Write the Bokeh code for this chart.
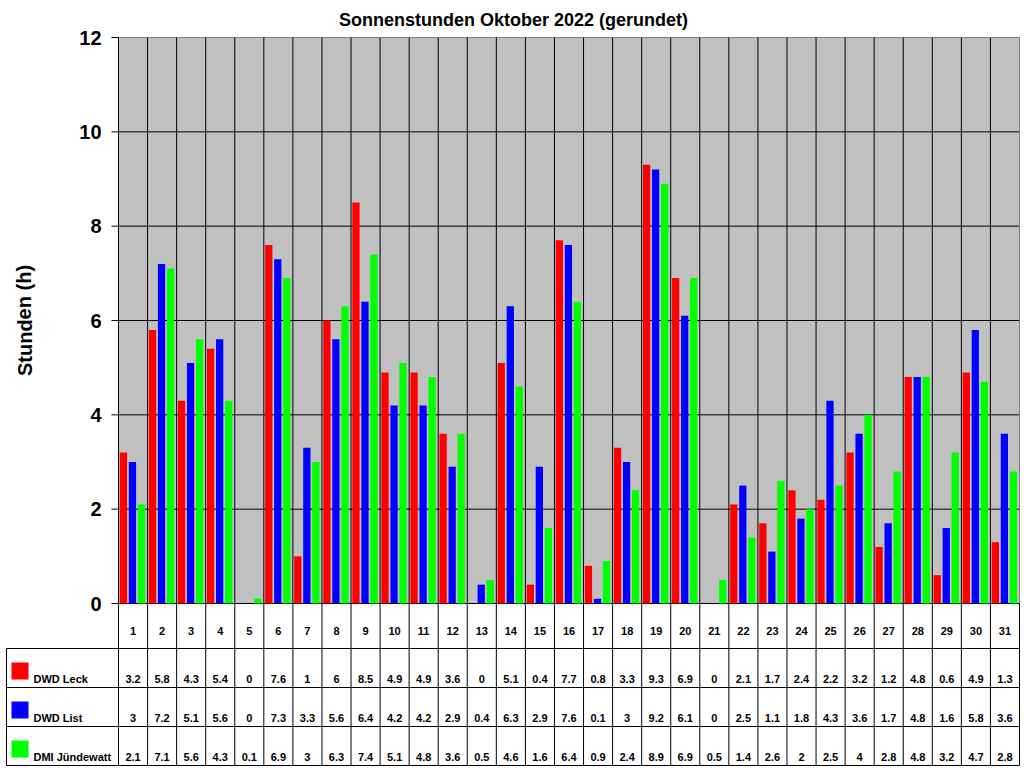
from bokeh.plotting import figure
from bokeh.models import Range1d, ColumnDataSource
from bokeh.transform import dodge
from bokeh.core.properties import value
from bokeh.embed import file_html
from bokeh.resources import INLINE

# Sonnenstunden Oktober 2022, gerundet
days = list(range(1, 32))
leck = [3.2, 5.8, 4.3, 5.4, 0, 7.6, 1, 6, 8.5, 4.9, 4.9, 3.6, 0, 5.1, 0.4, 7.7,
        0.8, 3.3, 9.3, 6.9, 0, 2.1, 1.7, 2.4, 2.2, 3.2, 1.2, 4.8, 0.6, 4.9, 1.3]
dwd_list = [3, 7.2, 5.1, 5.6, 0, 7.3, 3.3, 5.6, 6.4, 4.2, 4.2, 2.9, 0.4, 6.3, 2.9, 7.6,
            0.1, 3, 9.2, 6.1, 0, 2.5, 1.1, 1.8, 4.3, 3.6, 1.7, 4.8, 1.6, 5.8, 3.6]
dmi = [2.1, 7.1, 5.6, 4.3, 0.1, 6.9, 3, 6.3, 7.4, 5.1, 4.8, 3.6, 0.5, 4.6, 1.6, 6.4,
       0.9, 2.4, 8.9, 6.9, 0.5, 1.4, 2.6, 2, 2.5, 4, 2.8, 4.8, 3.2, 4.7, 2.8]
names = ["DWD Leck", "DWD List", "DMI Jündewatt"]
colors = ["#ff0000", "#0000ff", "#00ff00"]
y_ticks = [0, 2, 4, 6, 8, 10, 12]

FONT = value("Liberation Sans")
W, H = 1022, 766
XPX = 901 / 31   # pixel je Tag
YPX = 566 / 12   # pixel je Stunde
x0 = days[0] - 0.5 - 118 / XPX
x1 = x0 + W / XPX
y1 = y_ticks[-1] + 37 / YPX
y0 = y1 - H / YPX

left = days[0] - 0.5
right = days[-1] + 0.5
top = y_ticks[-1]
hdr_h = 45 / YPX
row_h = 39 / YPX
tab_bottom = -hdr_h - 3 * row_h
tab_left = x0 + 6 / XPX
tick = 7 / XPX

p = figure(width=W, height=H, x_range=Range1d(x0, x1), y_range=Range1d(y0, y1),
           output_backend="svg", toolbar_location=None, min_border=0,
           x_axis_location=None, y_axis_location=None)
p.grid.visible = False
p.outline_line_color = None
p.background_fill_color = "white"

# grauer Plotbereich
p.quad(left=left, right=right, bottom=0, top=top, fill_color="#c0c0c0", line_color=None)

# horizontale Gitterlinien mit Ticks
grid_y = y_ticks[:-1]
p.segment(x0=[left - tick] * len(grid_y), x1=[right] * len(grid_y), y0=grid_y, y1=grid_y,
          line_color="black", line_width=1)
p.segment(x0=[left - tick], x1=[left], y0=[top], y1=[top], line_color="black")
p.segment(x0=[left], x1=[right], y0=[top], y1=[top], line_color="#808080")
p.segment(x0=[right], x1=[right], y0=[top], y1=[0], line_color="#808080")

# vertikale Linien (Tage + Tabelle)
bounds = [d - 0.5 for d in days]
p.segment(x0=bounds, x1=bounds, y0=[top] * len(bounds), y1=[tab_bottom] * len(bounds),
          line_color="black")
p.segment(x0=[right], x1=[right], y0=[0], y1=[tab_bottom], line_color="black")

# Balken
src = ColumnDataSource(dict(day=days, leck=leck, lst=dwd_list, dmi=dmi))
offsets = [-0.33, -0.02, 0.29]
for col, off, c in zip(["leck", "lst", "dmi"], offsets, colors):
    p.vbar(x=dodge("day", off, range=p.x_range), top=col, width=0.25, source=src,
           fill_color=c, line_color=None)

# Tabelle
row_lines = [-hdr_h - i * row_h for i in range(4)]
p.segment(x0=[tab_left] * 4, x1=[right] * 4, y0=row_lines, y1=row_lines, line_color="black")
p.segment(x0=[tab_left], x1=[tab_left], y0=[-hdr_h], y1=[tab_bottom], line_color="black")

p.text(x=days, y=[-27 / YPX] * len(days), text=[str(d) for d in days],
       text_font=FONT, text_font_style="bold", text_font_size="11px",
       text_align="center", text_baseline="middle", text_color="black")

for i, (vals, name, c) in enumerate(zip([leck, dwd_list, dmi], names, colors)):
    ybot = -hdr_h - (i + 1) * row_h
    ytxt = ybot + 9 / YPX
    p.text(x=days, y=[ytxt] * len(days), text=[("%g" % v) for v in vals],
           text_font=FONT, text_font_style="bold", text_font_size="11px",
           text_align="center", text_baseline="middle", text_color="black")
    p.scatter(x=[x0 + 19.5 / XPX], y=[ybot + 16.5 / YPX], marker="square", size=17,
              fill_color=c, line_color=None)
    p.text(x=[x0 + 33 / XPX], y=[ytxt], text=[name], text_font=FONT, text_font_style="bold",
           text_font_size="11px", text_align="left", text_baseline="middle",
           text_color="black")

# y-Achsenbeschriftung
p.text(x=[left - 17 / XPX] * len(y_ticks), y=y_ticks, text=[str(t) for t in y_ticks],
       text_font=FONT, text_font_style="bold", text_font_size="20px",
       text_align="right", text_baseline="middle", text_color="black")
p.text(x=[x0 + 24 / XPX], y=[6], text=["Stunden (h)"], angle=1.5708,
       text_font=FONT, text_font_style="bold", text_font_size="20px",
       text_align="center", text_baseline="middle", text_color="black")

# Titel
p.text(x=[x0 + 513 / XPX], y=[top + 18 / YPX], text=["Sonnenstunden Oktober 2022 (gerundet)"],
       text_font=FONT, text_font_style="bold", text_font_size="18px",
       text_align="center", text_baseline="middle", text_color="black")

open("out.html", "w").write(file_html(p, INLINE))
